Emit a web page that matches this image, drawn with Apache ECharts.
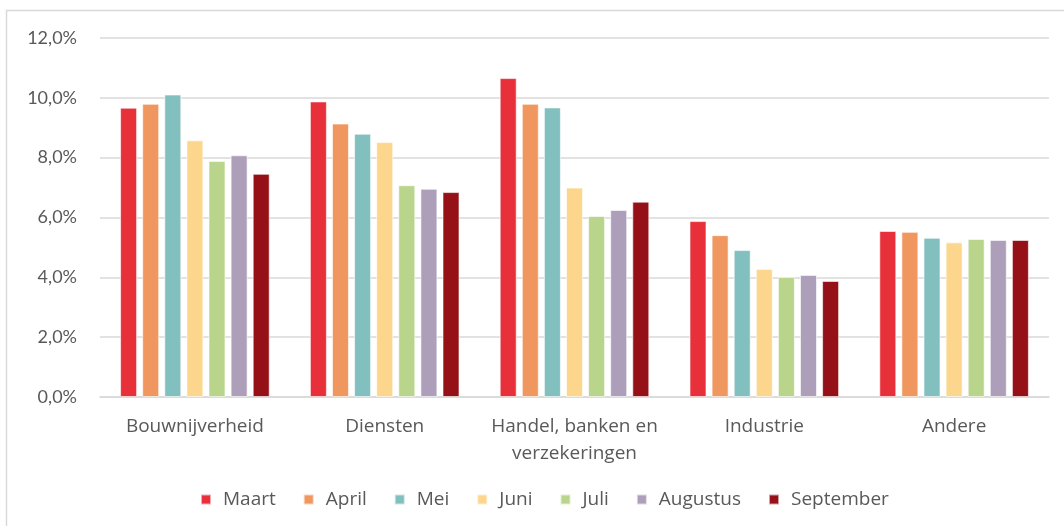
<!DOCTYPE html>
<html>
<head>
<meta charset="utf-8">
<script src="https://cdn.jsdelivr.net/npm/echarts@6/dist/echarts.min.js"></script>
<style>
    html, body {margin: 0; padding: 0; background: #fff;}
    #main {width: 1064px; height: 526px;}
</style>
</head>
<body>
<div id="main"></div>
<script>
// sectoren
const categories = ['Bouwnijverheid', 'Diensten', 'Handel, banken en\nverzekeringen', 'Industrie', 'Andere'];
const months = ['Maart', 'April', 'Mei', 'Juni', 'Juli', 'Augustus', 'September'];
const colors = ['#e8303a', '#f0975f', '#82bfbf', '#fdd68e', '#b9d58c', '#ad9fba', '#961117'];

// waarden in %, per maand
const maart = [9.67, 9.88, 10.66, 5.88, 5.55];
const april = [9.80, 9.14, 9.80, 5.41, 5.52];
const mei = [10.11, 8.80, 9.68, 4.91, 5.32];
const juni = [8.58, 8.52, 7.00, 4.28, 5.17];
const juli = [7.89, 7.08, 6.05, 4.01, 5.28];
const augustus = [8.08, 6.96, 6.25, 4.08, 5.25];
const september = [7.46, 6.85, 6.53, 3.88, 5.25];
const seriesValues = [maart, april, mei, juni, juli, augustus, september];

const labelFont = '"Open Sans", sans-serif';
const tickFont = 'Lato, sans-serif';

const myChart = echarts.init(document.getElementById('main'));

const option = {
    animation: false,
    color: colors,
    graphic: [{
        type: 'rect',
        shape: {x: 6.5, y: 10.5, width: 1060, height: 530},
        style: {fill: 'none', stroke: '#d9d9d9', lineWidth: 1.5}
    }],
    grid: {left: 100, right: 15, top: 38, bottom: 129},
    legend: {
        bottom: 12,
        left: 195,
        itemWidth: 10,
        itemHeight: 10,
        itemGap: 27,
        icon: 'rect',
        textStyle: {color: '#595959', fontSize: 19, fontFamily: labelFont, padding: [0, 0, 0, 7]},
        data: months
    },
    xAxis: {
        type: 'category',
        data: categories,
        axisTick: {show: false},
        axisLine: {lineStyle: {color: '#d9d9d9', width: 1.5}},
        axisLabel: {interval: 0, color: '#595959', fontSize: 19, fontFamily: labelFont, margin: 16, lineHeight: 27}
    },
    yAxis: {
        type: 'value',
        min: 0,
        max: 12,
        interval: 2,
        axisLine: {show: false},
        axisTick: {show: false},
        splitLine: {lineStyle: {color: '#d9d9d9', width: 1.5}},
        axisLabel: {
            color: '#595959',
            fontSize: 18,
            fontFamily: tickFont,
            margin: 23,
            formatter: function (value) {
                return value.toFixed(1).replace('.', ',') + '%';
            }
        }
    },
    series: months.map(function (name, i) {
        return {
            name: name,
            type: 'bar',
            barWidth: 17,
            barGap: '30%',
            itemStyle: {borderColor: 'rgba(255,255,255,0.6)', borderWidth: 1},
            data: seriesValues[i]
        };
    })
};

myChart.setOption(option);
</script>
</body>
</html>
